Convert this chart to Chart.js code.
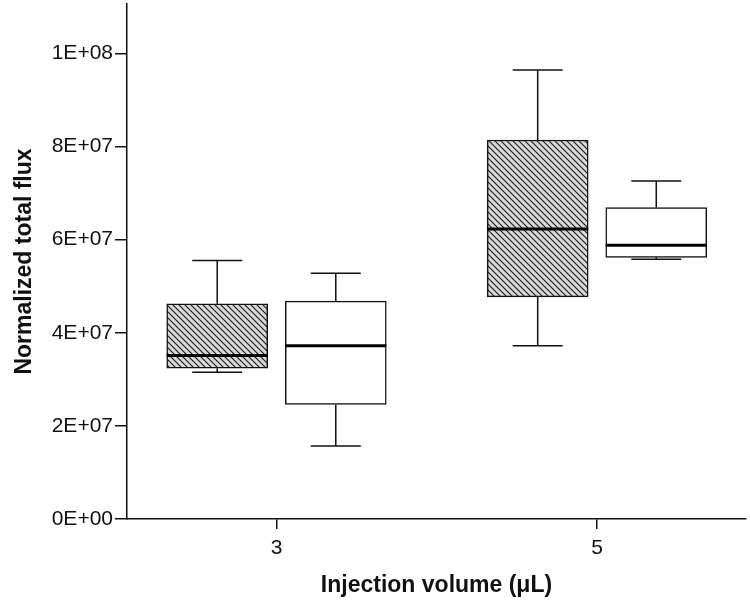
<!DOCTYPE html>
<html>
<head>
<meta charset="utf-8">
<script src="https://cdn.jsdelivr.net/npm/chart.js@4/dist/chart.umd.min.js"></script>
<style>
  html, body { margin: 0; padding: 0; background: #ffffff; }
  #c { display: block; }
</style>
</head>
<body>
<canvas id="c" width="750" height="601"></canvas>
<script>
// ---- data ----
const categories = [3, 5];                       // injection volume (µL)
const yTicks = [0, 2e7, 4e7, 6e7, 8e7, 1e8];
const yTickLabels = ['0E+00', '2E+07', '4E+07', '6E+07', '8E+07', '1E+08'];

// hatched group
const hatchedMin    = [31.5e6, 37.2e6];
const hatchedQ1     = [32.4e6, 47.7e6];
const hatchedMedian = [35.1e6, 62.3e6];
const hatchedQ3     = [46.2e6, 81.4e6];
const hatchedMax    = [55.5e6, 96.4e6];

// open (white) group
const openMin    = [15.7e6, 55.8e6];
const openQ1     = [24.6e6, 56.2e6];
const openMedian = [37.2e6, 58.8e6];
const openQ3     = [46.8e6, 66.9e6];
const openMax    = [52.8e6, 72.6e6];

// ---- styling ----
const GROUP_OFFSET = 0.37;   // x-units from category centre to each box centre
const BOX_WIDTH_PX = 101;
const CAP_WIDTH_PX = 50;

function hatchPattern() {
  const s = 6;
  const p = document.createElement('canvas');
  p.width = s; p.height = s;
  const g = p.getContext('2d');
  g.fillStyle = '#d8d8d8';
  g.fillRect(0, 0, s, s);
  g.strokeStyle = '#1a1a1a';
  g.lineWidth = 1.1;
  g.beginPath();
  g.moveTo(-1, -1); g.lineTo(s + 1, s + 1);
  g.moveTo(-1, s - 1); g.lineTo(1, s + 1);
  g.moveTo(s - 1, -1); g.lineTo(s + 1, 1);
  g.stroke();
  return document.getElementById('c').getContext('2d').createPattern(p, 'repeat');
}

const series = [
  { off: -GROUP_OFFSET, min: hatchedMin, q1: hatchedQ1, med: hatchedMedian, q3: hatchedQ3, max: hatchedMax },
  { off:  GROUP_OFFSET, min: openMin,    q1: openQ1,    med: openMedian,    q3: openQ3,    max: openMax }
];

const whiskerPlugin = {
  id: 'whiskers',
  beforeDatasetsDraw(chart) {
    const { ctx, scales: { x, y } } = chart;
    ctx.save();
    ctx.strokeStyle = '#111';
    ctx.lineWidth = 1.5;
    series.forEach(s => {
      categories.forEach((c, i) => {
        const px = x.getPixelForValue(c + s.off);
        const yMin = y.getPixelForValue(s.min[i]);
        const yMax = y.getPixelForValue(s.max[i]);
        const yQ1 = y.getPixelForValue(s.q1[i]);
        const yQ3 = y.getPixelForValue(s.q3[i]);
        ctx.beginPath();
        ctx.moveTo(px, yQ3); ctx.lineTo(px, yMax);
        ctx.moveTo(px, yQ1); ctx.lineTo(px, yMin);
        ctx.moveTo(px - CAP_WIDTH_PX / 2, yMax); ctx.lineTo(px + CAP_WIDTH_PX / 2, yMax);
        ctx.moveTo(px - CAP_WIDTH_PX / 2, yMin); ctx.lineTo(px + CAP_WIDTH_PX / 2, yMin);
        ctx.stroke();
      });
    });
    ctx.restore();
  },
  afterDatasetsDraw(chart) {
    const { ctx, scales: { x, y } } = chart;
    ctx.save();
    ctx.strokeStyle = '#000';
    ctx.lineWidth = 3;
    series.forEach(s => {
      categories.forEach((c, i) => {
        const px = x.getPixelForValue(c + s.off);
        const ym = y.getPixelForValue(s.med[i]);
        ctx.beginPath();
        ctx.moveTo(px - BOX_WIDTH_PX / 2, ym);
        ctx.lineTo(px + BOX_WIDTH_PX / 2, ym);
        ctx.stroke();
      });
    });
    ctx.restore();
  }
};

const FONT = "'Liberation Sans', Arial, Helvetica, sans-serif";

new Chart(document.getElementById('c'), {
  type: 'bar',
  data: {
    datasets: [
      {
        label: 'hatched',
        data: categories.map((c, i) => ({ x: c - GROUP_OFFSET, y: [hatchedQ1[i], hatchedQ3[i]] })),
        backgroundColor: hatchPattern(),
        borderColor: '#111',
        borderWidth: 1.5,
        borderSkipped: false,
        barThickness: BOX_WIDTH_PX
      },
      {
        label: 'open',
        data: categories.map((c, i) => ({ x: c + GROUP_OFFSET, y: [openQ1[i], openQ3[i]] })),
        backgroundColor: '#ffffff',
        borderColor: '#111',
        borderWidth: 1.5,
        borderSkipped: false,
        barThickness: BOX_WIDTH_PX
      }
    ]
  },
  options: {
    responsive: false,
    animation: false,
    grouped: false,
    layout: { padding: { top: 4, right: 4, left: 0, bottom: 0 } },
    plugins: { legend: { display: false }, tooltip: { enabled: false } },
    scales: {
      x: {
        type: 'linear',
        min: 2.067,
        max: 5.93,
        offset: false,
        afterBuildTicks: s => { s.ticks = categories.map(v => ({ value: v })); },
        afterFit: s => { s.height = 82; s.paddingLeft = 0; s.paddingRight = 0; },
        ticks: {
          color: '#111',
          font: { family: FONT, size: 21 },
          padding: 7,
          autoSkip: false,
          maxRotation: 0,
          callback: v => String(v)
        },
        grid: { offset: false, drawOnChartArea: false, drawTicks: true, tickLength: 10, color: '#111', lineWidth: 1.5 },
        border: { display: true, color: '#111', width: 1.5 },
        title: {
          display: true,
          text: 'Injection volume (μL)',
          color: '#111',
          font: { family: FONT, size: 23, weight: 'bold' },
          padding: { top: 0, bottom: 2 }
        }
      },
      y: {
        type: 'linear',
        min: 0,
        max: 1.106e8,
        afterBuildTicks: s => { s.ticks = yTicks.map(v => ({ value: v })); },
        afterFit: s => { s.width = 127; s.paddingTop = 0; s.paddingBottom = 0; },
        ticks: {
          color: '#111',
          font: { family: FONT, size: 21 },
          padding: 2,
          callback: v => yTickLabels[yTicks.indexOf(v)]
        },
        grid: { drawOnChartArea: false, drawTicks: true, tickLength: 12, color: '#111', lineWidth: 1.5 },
        border: { display: true, color: '#111', width: 1.5 },
        title: {
          display: true,
          text: 'Normalized total flux',
          color: '#111',
          font: { family: FONT, size: 23, weight: 'bold' },
          padding: { top: 11, bottom: 0 }
        }
      }
    }
  },
  plugins: [whiskerPlugin]
});
</script>
</body>
</html>
